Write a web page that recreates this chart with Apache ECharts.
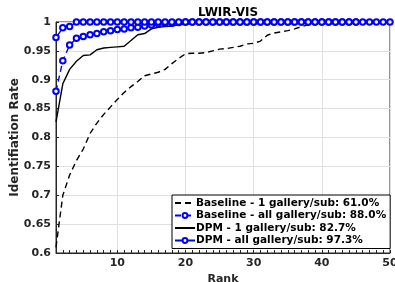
<!DOCTYPE html>
<html><head><meta charset="utf-8">
<script src="https://cdn.jsdelivr.net/npm/echarts@6/dist/echarts.min.js"></script>
<style>html,body{margin:0;padding:0;background:#fff}#c{width:395px;height:282px}</style>
</head><body><div id="c"></div>
<script>
var ranks = [];
for (var i = 1; i <= 50; i++) ranks.push(String(i));
var seriesNames = [
  'Baseline - 1 gallery/sub: 61.0%',
  'Baseline - all gallery/sub: 88.0%',
  'DPM - 1 gallery/sub: 82.7%',
  'DPM - all gallery/sub: 97.3%'
];
var baseline1 = [0.610,0.700,0.735,0.760,0.780,0.807,0.825,0.840,0.853,0.866,
  0.878,0.888,0.897,0.907,0.910,0.913,0.918,0.928,0.937,0.945,
  0.946,0.946,0.947,0.950,0.953,0.954,0.956,0.958,0.962,0.963,
  0.967,0.977,0.981,0.983,0.985,0.988,0.992,0.995,0.997,0.998,
  1,1,1,1,1,1,1,1,1,1];
var baselineAll = [0.880,0.933,0.960,0.972,0.975,0.978,0.980,0.983,0.985,0.987,
  0.988,0.990,0.991,0.993,0.995,0.997,0.998,0.998,0.999,1,
  1,1,1,1,1,1,1,1,1,1,
  1,1,1,1,1,1,1,1,1,1,
  1,1,1,1,1];
var dpm1 = [0.827,0.893,0.918,0.932,0.942,0.943,0.952,0.955,0.956,0.957,
  0.958,0.968,0.978,0.980,0.988,0.991,0.992,0.993,0.995,0.996,
  0.997,0.998,0.999,1,1,1,1,1,1,1,
  1,1,1,1,1,1,1,1,1,1,
  1,1,1,1,1,1,1,1,1,1];
var dpmAll = [0.973,0.990,0.992,1,1,1,1,1,1,1,
  1,1,1,1,1,1,1,1,1,1,
  1,1,1,1,1,1,1,1,1,1,
  1,1,1,1,1,1,1,1,1,1,
  1,1,1,1,1,1,1,1,1,1];

var FONT = 'DejaVu Sans';
var TXT = '#262626';
var chart = echarts.init(document.getElementById('c'), null, {renderer:'canvas'});
function mk(name, data, color, dashed, marker) {
  return {
    name: name, type: 'line', data: data,
    symbol: marker ? 'emptyCircle' : 'none',
    symbolSize: 5.5, showSymbol: marker, showAllSymbol: true,
    lineStyle: {color: color, width: 1.4, type: dashed ? [6,4] : 'solid'},
    itemStyle: {color: color, borderColor: color, borderWidth: 1.2},
    animation: false
  };
}
var hidden = {opacity: 0, color: 'rgba(0,0,0,0)', borderColor: 'rgba(0,0,0,0)', borderWidth: 0};
chart.setOption({
  animation: false,
  title: {text: 'LWIR-VIS', left: 223, top: 2, textAlign: 'center',
    textStyle: {fontFamily: FONT, fontWeight: 'bold', fontSize: 12, color: '#000'}},
  grid: {left: 56, right: 5, top: 22, bottom: 29, show: true, borderColor: TXT, borderWidth: 1,
    containLabel: false, outerBoundsMode: 'none'},
  legend: {
    orient: 'vertical', left: 172, top: 195,
    data: [
      {name: seriesNames[0], itemStyle: hidden},
      {name: seriesNames[1]},
      {name: seriesNames[2], itemStyle: hidden},
      {name: seriesNames[3]}
    ],
    itemWidth: 20, itemHeight: 6, itemGap: 0.5,
    padding: [2, 4, 2, 2],
    backgroundColor: '#fff', borderColor: '#000', borderWidth: 1,
    textStyle: {fontFamily: FONT, fontWeight: 'bold', fontSize: 10.5, lineHeight: 12, color: '#000', padding: [0,0,0,-4]}
  },
  xAxis: {
    type: 'category', data: ranks, boundaryGap: false,
    name: 'Rank', nameLocation: 'middle', nameGap: 19,
    nameTextStyle: {fontFamily: FONT, fontWeight: 'bold', fontSize: 11, color: TXT},
    axisLine: {lineStyle: {color: TXT, width: 1}},
    axisTick: {inside: true, length: 3, interval: 0, lineStyle: {color: TXT}},
    axisLabel: {interval: function(i, v){ return (+v) % 10 === 0; },
      fontFamily: FONT, fontWeight: 'bold', fontSize: 11, color: TXT, margin: 5},
    splitLine: {show: true, interval: function(i, v){ return (+v) % 10 === 0; }, lineStyle: {color: '#e0e0e0', width: 1}}
  },
  yAxis: {
    type: 'value', min: 0.6, max: 1, interval: 0.05,
    name: 'Identifiation Rate', nameLocation: 'middle', nameGap: 35, nameMoveOverlap: false,
    nameTextStyle: {fontFamily: FONT, fontWeight: 'bold', fontSize: 12, color: TXT},
    axisLine: {show: true, lineStyle: {color: TXT, width: 1}},
    axisTick: {show: true, inside: true, length: 3, lineStyle: {color: TXT}},
    axisLabel: {fontFamily: FONT, fontWeight: 'bold', fontSize: 11, color: TXT, margin: 5,
      formatter: function(v){ return String(+v.toFixed(2)); }},
    splitLine: {show: true, lineStyle: {color: '#e0e0e0', width: 1}}
  },
  series: [
    mk(seriesNames[0], baseline1, '#000000', true, false),
    mk(seriesNames[1], baselineAll, '#0000ff', true, true),
    mk(seriesNames[2], dpm1, '#000000', false, false),
    mk(seriesNames[3], dpmAll, '#0000ff', false, true)
  ]
});
</script></body></html>
